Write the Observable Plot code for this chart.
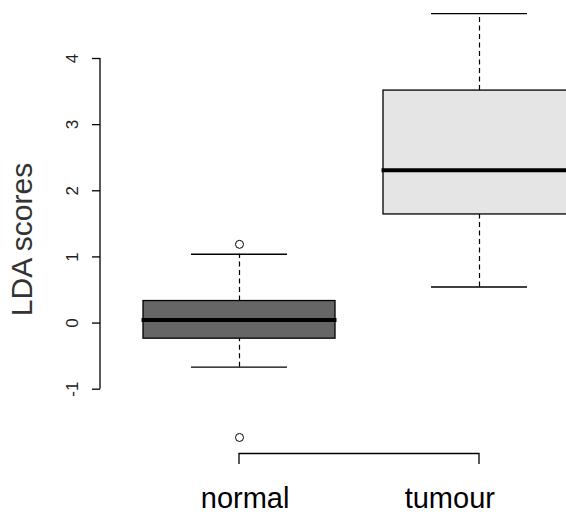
<!DOCTYPE html>
<html><head><meta charset="utf-8">
<script src="https://cdn.jsdelivr.net/npm/d3@7"></script>
<script src="https://cdn.jsdelivr.net/npm/@observablehq/plot@0.6"></script>
<style>
body{margin:0;background:#fff;overflow:hidden}
#chart{width:566px;height:514px;overflow:hidden}
</style>
</head><body><div id="chart"></div>
<script>
const groups = ["normal", "tumour"];
const lowerWhisker = [-0.667, 0.545];
const q1 = [-0.236, 1.642];
const medians = [0.045, 2.309];
const q3 = [0.333, 3.515];
const upperWhisker = [1.04, 4.677];
const outlierGroup = ["normal", "normal"];
const outlierValue = [1.19, -1.73];
const boxFill = ["#666666", "#e5e5e5"];
const yTicks = [-1, 0, 1, 2, 3, 4];
const yTickLabels = ["-1", "0", "1", "2", "3", "4"];
const yLabel = "LDA scores";

const boxes = groups.map((g, i) => ({group: g, lo: lowerWhisker[i], q1: q1[i], med: medians[i], q3: q3[i], hi: upperWhisker[i], fill: boxFill[i]}));
const outliers = outlierGroup.map((g, i) => ({group: g, value: outlierValue[i]}));
const tickRows = yTicks.map((v, i) => ({value: v, label: yTickLabels[i]}));

const font = "'Liberation Sans', Arial, Helvetica, sans-serif";

const axesAndBracket = (index, scales, values, dimensions) => {
  const g = d3.create("svg:g").attr("fill", "none").attr("stroke", "black").attr("stroke-width", 1.3);
  const x0 = dimensions.marginLeft;
  g.append("line").attr("x1", x0).attr("x2", x0)
    .attr("y1", scales.y(yTicks[0])).attr("y2", scales.y(yTicks[yTicks.length - 1]));
  const sx = scales.x;
  let bw = 0;
  if (typeof sx.bandwidth === "function") bw = sx.bandwidth();
  else if (scales.scales && scales.scales.x && scales.scales.x.bandwidth) bw = scales.scales.x.bandwidth;
  const xa = sx(groups[0]) + bw / 2, xb = sx(groups[groups.length - 1]) + bw / 2;
  const yb = dimensions.height - dimensions.marginBottom;
  g.append("path").attr("d", `M${xa},${yb + 10.5}V${yb}H${xb}V${yb + 10.5}`);
  return g.node();
};

const chart = Plot.plot({
  width: 566, height: 514,
  marginTop: 24.5, marginBottom: 60.5, marginLeft: 100, marginRight: 0,
  style: {fontFamily: font, fontSize: "15px", background: "white", overflow: "hidden"},
  x: {type: "band", domain: groups, range: [119.4, 599.4], paddingInner: 0.2, paddingOuter: 0.1, axis: null},
  y: {domain: [-1, 4], range: [388.7, 58], axis: null},
  color: {type: "identity"},
  marks: [
    Plot.ruleX(boxes, {x: "group", y1: "q3", y2: "hi", stroke: "black", strokeWidth: 1.2, strokeDasharray: "5,3.5"}),
    Plot.ruleX(boxes, {x: "group", y1: "lo", y2: "q1", stroke: "black", strokeWidth: 1.2, strokeDasharray: "5,3.5"}),
    Plot.tickY(boxes, {x: "group", y: "hi", insetLeft: 48, insetRight: 48, stroke: "black", strokeWidth: 1.3}),
    Plot.tickY(boxes, {x: "group", y: "lo", insetLeft: 48, insetRight: 48, stroke: "black", strokeWidth: 1.3}),
    Plot.barY(boxes, {x: "group", y1: "q1", y2: "q3", fill: "fill", stroke: "black", strokeWidth: 1.3}),
    Plot.tickY(boxes, {x: "group", y: "med", stroke: "black", strokeWidth: 4, insetLeft: -1.5, insetRight: -1.5}),
    Plot.dot(outliers, {x: "group", y: "value", r: 4, stroke: "black", fill: "white", strokeWidth: 1}),
    Plot.axisY(yTicks, {anchor: "left", tickSize: 8, strokeWidth: 1.3, tickFormat: () => ""}),
    Plot.text(tickRows, {y: "value", text: "label", frameAnchor: "left", textAnchor: "middle", lineAnchor: "middle", rotate: -90, dx: -27.5, fontSize: 17, fontFamily: font, fill: "#222"}),
    axesAndBracket,
    Plot.text([groups[0]], {x: d => d, text: d => d, frameAnchor: "bottom", dy: 54, dx: 5.6, fontSize: 29, fontFamily: font}),
    Plot.text([groups[1]], {x: d => d, text: d => d, frameAnchor: "bottom", dy: 54, dx: -29.7, fontSize: 29, fontFamily: font}),
    Plot.text([yLabel], {text: d => d, frameAnchor: "left", textAnchor: "middle", rotate: -90, dx: -78, fontSize: 30, fontFamily: font, fill: "#333"})
  ]
});
document.getElementById("chart").appendChild(chart);
</script>
</body></html>
